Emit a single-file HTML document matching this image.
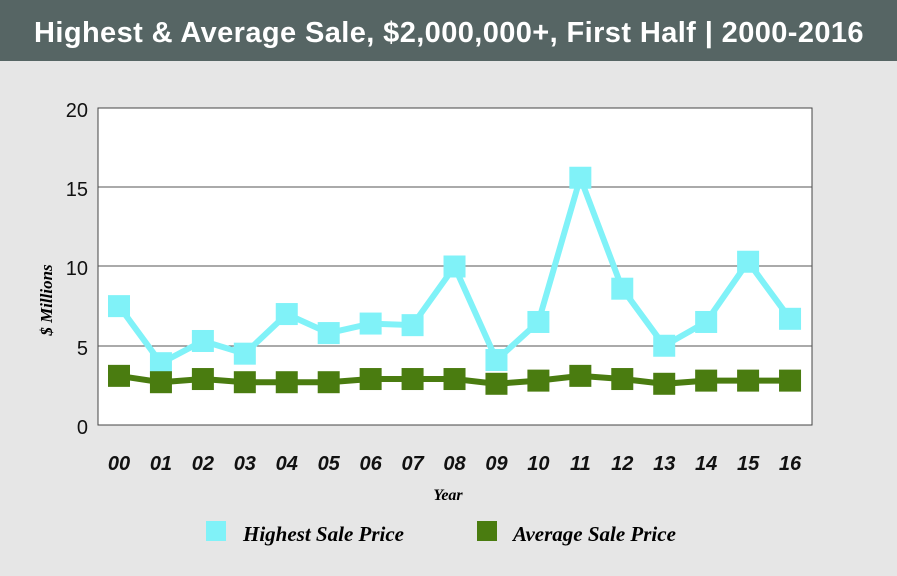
<!DOCTYPE html>
<html><head><style>
body{margin:0;width:897px;height:571px;overflow:hidden;background:#e6e6e6;font-family:"Liberation Sans",sans-serif}
</style></head><body>
<svg width="897" height="571" xmlns="http://www.w3.org/2000/svg">
<rect x="0" y="0" width="897" height="61" fill="#566564"/>
<text x="449" y="42" text-anchor="middle" fill="#fff" font-size="29" font-weight="bold" letter-spacing="0.4" font-family="Liberation Sans, sans-serif">Highest &amp; Average Sale, $2,000,000+, First Half | 2000-2016</text>
<rect x="98" y="108" width="714" height="317" fill="#fff" stroke="#444" stroke-width="1"/>
<g stroke="#555" stroke-width="1">
<line x1="98" y1="187" x2="812" y2="187"/><line x1="98" y1="266" x2="812" y2="266"/><line x1="98" y1="346" x2="812" y2="346"/>
</g>
<g font-size="20" fill="#111" text-anchor="end">
<text x="88" y="117">20</text><text x="88" y="196">15</text><text x="88" y="275">10</text><text x="88" y="355">5</text><text x="88" y="434">0</text>
</g>
<text transform="translate(52,300) rotate(-90)" text-anchor="middle" font-family="Liberation Serif, serif" font-style="italic" font-weight="bold" font-size="17">$ Millions</text>
<text x="448" y="500" text-anchor="middle" font-family="Liberation Serif, serif" font-style="italic" font-weight="bold" font-size="16">Year</text>
<g id="chart"></g>
<rect x="206" y="521" width="20" height="20" fill="#80f2f8"/>
<text x="243" y="541" font-family="Liberation Serif, serif" font-style="italic" font-weight="bold" font-size="21">Highest Sale Price</text>
<rect x="477" y="521" width="20" height="20" fill="#4a7c10"/>
<text x="513" y="541" font-family="Liberation Serif, serif" font-style="italic" font-weight="bold" font-size="21">Average Sale Price</text>
</svg>
<script>
var hi=[7.5,3.9,5.3,4.5,7.0,5.8,6.4,6.3,10.0,4.1,6.5,15.6,8.6,5.0,6.5,10.3,6.7];
var av=[3.1,2.7,2.9,2.7,2.7,2.7,2.9,2.9,2.9,2.6,2.8,3.1,2.9,2.6,2.8,2.8,2.8];
var g=document.getElementById('chart'),s='';
function X(i){return 119+i*41.94}function Y(v){return 425-v*15.85}
function series(d,c,w){var p=d.map((v,i)=>X(i).toFixed(1)+','+Y(v).toFixed(1)).join(' ');
s+='<polyline points="'+p+'" fill="none" stroke="'+c+'" stroke-width="'+w+'"/>';
d.forEach((v,i)=>{s+='<rect x="'+(X(i)-11)+'" y="'+(Y(v)-11)+'" width="22" height="22" fill="'+c+'"/>';});}
series(hi,'#80f2f8',6);series(av,'#4a7c10',6);
for(var i=0;i<17;i++){s+='<text x="'+X(i)+'" y="470" text-anchor="middle" font-size="20" font-style="italic" font-weight="bold" fill="#111">'+(i<10?'0'+i:i)+'</text>';}
g.innerHTML=s;
</script>
</body></html>
